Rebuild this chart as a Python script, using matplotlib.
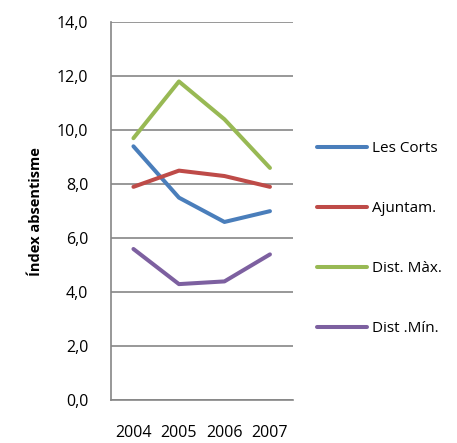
import matplotlib.pyplot as plt
from matplotlib.ticker import FuncFormatter

plt.rcParams['font.family'] = ['Open Sans', 'DejaVu Sans']

# data
years = ['2004', '2005', '2006', '2007']
les_corts = [9.4, 7.5, 6.6, 7.0]
ajuntam = [7.9, 8.5, 8.3, 7.9]
dist_max = [9.7, 11.8, 10.4, 8.6]
dist_min = [5.6, 4.3, 4.4, 5.4]

series = [
    ('Les Corts', les_corts, '#4A7EBB'),
    ('Ajuntam.', ajuntam, '#BE4B48'),
    ('Dist. Màx.', dist_max, '#98B954'),
    ('Dist .Mín.', dist_min, '#7D60A0'),
]

fig = plt.figure(figsize=(4.57, 4.43), dpi=100)
ax = fig.add_axes([0.2422, 0.0964, 0.3983, 0.8539])

x = range(len(years))
for name, vals, col in series:
    ax.plot(x, vals, color=col, lw=2.9, label=name, solid_capstyle='round')

ax.set_xlim(-0.5, len(years) - 0.5)
ax.set_ylim(0, 14)
ax.set_yticks(range(0, 15, 2))
ax.yaxis.set_major_formatter(FuncFormatter(lambda v, p: f'{v:.1f}'.replace('.', ',')))
ax.set_xticks(list(x))
ax.set_xticklabels(years)
ax.tick_params(axis='both', length=0, labelsize=11.5, colors='#000000')
ax.tick_params(axis='x', pad=18)
ax.tick_params(axis='y', pad=16)

ax.grid(axis='y', color='#868686', lw=1.2)
ax.set_axisbelow(True)
for s in ['top', 'right']:
    ax.spines[s].set_visible(False)
for s in ['left', 'bottom']:
    ax.spines[s].set_color('#868686')
    ax.spines[s].set_linewidth(1.2)

ax.set_ylabel('Índex absentisme', fontsize=10.5, fontweight='bold', labelpad=10)

fig.legend(loc='center left', bbox_to_anchor=(0.693, 0.461), frameon=False,
           fontsize=11, handlelength=3.3, handletextpad=0.3, labelspacing=2.95,
           borderpad=0, borderaxespad=0)

fig.savefig('out.png', dpi=100)
